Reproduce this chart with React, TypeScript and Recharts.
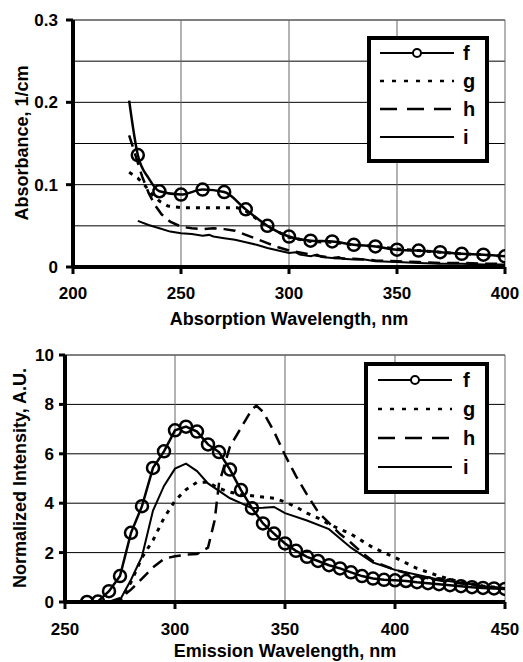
import React from 'react';
import {
  LineChart,
  Line,
  XAxis,
  YAxis,
  CartesianGrid,
  Label,
} from 'recharts';

// ---- absorption spectra (top panel) ----
const absXTicks = [200, 250, 300, 350, 400];
const absYTicks = [0, 0.05, 0.1, 0.15, 0.2, 0.25, 0.3];
const absYLabeled = [0, 0.1, 0.2, 0.3];

const absWlF = [226, 230, 235, 240, 250, 260, 270, 280, 290, 300, 310, 320, 330, 340, 350, 360, 370, 380, 390, 400];
const absF = [0.202, 0.136, 0.108, 0.092, 0.088, 0.094, 0.091, 0.07, 0.05, 0.037, 0.032, 0.031, 0.027, 0.025, 0.021, 0.02, 0.018, 0.016, 0.015, 0.013];

const absWlG = [226, 230, 233, 236, 240, 244, 250, 260, 270, 276, 280, 290, 300, 310, 320, 330, 340, 350, 360, 370, 380, 390, 400];
const absG = [0.115, 0.108, 0.1, 0.09, 0.08, 0.074, 0.072, 0.072, 0.072, 0.072, 0.068, 0.049, 0.036, 0.031, 0.03, 0.027, 0.025, 0.022, 0.02, 0.018, 0.016, 0.015, 0.013];

const absWlH = [226, 229, 232, 235, 238, 241, 245, 250, 255, 260, 265, 270, 275, 280, 285, 290, 295, 300, 310, 320, 330, 340, 350, 360, 370, 380, 390, 400];
const absH = [0.16, 0.135, 0.11, 0.09, 0.075, 0.064, 0.055, 0.049, 0.047, 0.046, 0.047, 0.046, 0.044, 0.039, 0.034, 0.029, 0.024, 0.02, 0.015, 0.011, 0.01, 0.008, 0.007, 0.006, 0.005, 0.005, 0.004, 0.004];

const absWlI = [230, 235, 240, 245, 250, 255, 260, 263, 265, 270, 275, 280, 285, 290, 295, 300, 303, 305, 310, 313, 315, 320, 323, 325, 330, 335, 340, 350, 360, 370, 380, 390, 400];
const absI = [0.056, 0.051, 0.047, 0.043, 0.041, 0.04, 0.038, 0.039, 0.037, 0.035, 0.033, 0.03, 0.027, 0.023, 0.02, 0.017, 0.018, 0.015, 0.013, 0.015, 0.012, 0.011, 0.012, 0.01, 0.009, 0.009, 0.007, 0.006, 0.005, 0.004, 0.004, 0.003, 0.003];

// ---- emission spectra (bottom panel) ----
const emXTicks = [250, 300, 350, 400, 450];
const emYTicks = [0, 2, 4, 6, 8, 10];

const emWlF = [260, 265, 270, 275, 280, 285, 290, 295, 300, 305, 310, 315, 320, 325, 330, 335, 340, 345, 350, 355, 360, 365, 370, 375, 380, 385, 390, 395, 400, 405, 410, 415, 420, 425, 430, 435, 440, 445, 450];
const emF = [0, 0.02, 0.44, 1.05, 2.8, 3.88, 5.43, 6.1, 6.95, 7.1, 6.9, 6.38, 6.07, 5.36, 4.53, 3.8, 3.18, 2.77, 2.37, 2.07, 1.83, 1.66, 1.49, 1.36, 1.2, 1.05, 0.95, 0.9, 0.88, 0.85, 0.8, 0.76, 0.72, 0.68, 0.64, 0.6, 0.57, 0.55, 0.53];

const emWlG = [270, 275, 280, 285, 290, 295, 300, 305, 310, 315, 320, 325, 330, 335, 340, 345, 350, 355, 360, 365, 370, 375, 380, 390, 400, 410, 420, 430, 440, 450];
const emG = [0, 0.05, 0.8, 1.8, 2.5, 3.4, 4.1, 4.55, 4.85, 4.85, 4.6, 4.45, 4.35, 4.3, 4.25, 4.2, 4.05, 3.85, 3.6, 3.4, 3.15, 2.95, 2.75, 2.2, 1.8, 1.36, 1.05, 0.8, 0.65, 0.55];

const emWlH = [270, 275, 280, 285, 290, 295, 300, 305, 310, 315, 318, 320, 325, 330, 335, 337, 340, 345, 350, 355, 360, 365, 370, 375, 380, 385, 390, 400, 410, 420, 430, 440, 450];
const emH = [0, 0.15, 0.5, 0.95, 1.4, 1.75, 1.85, 1.92, 1.94, 2.2, 3.3, 4.8, 6.3, 7.05, 7.8, 7.95, 7.7, 6.9, 5.95, 5.1, 4.35, 3.65, 3.2, 2.75, 2.4, 2.0, 1.65, 1.3, 1.05, 0.88, 0.75, 0.63, 0.55];

const emWlI = [270, 275, 280, 285, 290, 295, 300, 305, 310, 315, 320, 325, 330, 335, 340, 345, 350, 360, 370, 380, 390, 400, 410, 420, 430, 440, 450];
const emI = [0, 0.08, 0.9, 1.85, 3.7, 4.7, 5.4, 5.6, 5.3, 4.8, 4.5, 4.2, 4.0, 3.8, 3.82, 3.85, 3.6, 3.3, 2.95, 2.2, 1.6, 1.3, 1.1, 0.9, 0.78, 0.65, 0.55];

const zip = (xs: number[], ys: number[], mark?: (x: number) => boolean) =>
  xs.map((x, i) => ({ x, y: ys[i], m: mark ? mark(x) : false }));

const FONT = '"Liberation Sans", Arial, sans-serif';

const ringDot = (props: any) => {
  const { cx, cy, index, payload } = props;
  if (!payload || !payload.m) return <g key={`e${index}`} />;
  return (
    <circle key={`d${index}`} cx={cx} cy={cy} r={6} fill="none" stroke="#000" strokeWidth={2.5} />
  );
};

const legendRows = [
  { name: 'f', dash: undefined, ring: true, w: 2 },
  { name: 'g', dash: '4 8', ring: false, w: 2.5 },
  { name: 'h', dash: '17 10', ring: false, w: 2.5 },
  { name: 'i', dash: undefined, ring: false, w: 2 },
];

// legend box drawn over the plot, like the spreadsheet original
const LegendBox = ({ left, top, w, h, rowTop, rowGap, lineFrom, lineTo, textX }: any) => (
  <div
    style={{
      position: 'absolute',
      left,
      top,
      width: w,
      height: h,
      boxSizing: 'border-box',
      border: '4px solid #000',
      background: '#fff',
    }}
  >
    <svg width={w - 8} height={h - 8} style={{ display: 'block' }}>
      {legendRows.map((r, i) => {
        const y = rowTop + i * rowGap - 4;
        return (
          <g key={r.name}>
            <line x1={lineFrom - 4} x2={lineTo - 4} y1={y} y2={y} stroke="#000" strokeWidth={r.w} strokeDasharray={r.dash} />
            {r.ring && <circle cx={(lineFrom + lineTo) / 2 - 4} cy={y} r={4} fill="#fff" stroke="#000" strokeWidth={2} />}
            <text x={textX - 4} y={y} dy="0.36em" fontFamily={FONT} fontWeight="bold" fontSize={20} fill="#000">
              {r.name}
            </text>
          </g>
        );
      })}
    </svg>
  </div>
);

const AbsYTick = (props: any) => {
  const { y, payload } = props;
  const v = payload.value;
  if (!absYLabeled.some((t) => Math.abs(t - v) < 1e-9)) return <g />;
  return (
    <g>
      <line x1={66} x2={73} y1={y} y2={y} stroke="#000" strokeWidth={3} />
      <text x={58} y={y} dy="0.36em" textAnchor="end" fontFamily={FONT} fontWeight="bold" fontSize={17} fill="#000">
        {v === 0 ? '0' : v.toFixed(1)}
      </text>
    </g>
  );
};

const tickStyle = { fontFamily: FONT, fontWeight: 'bold', fontSize: 17, fill: '#000' } as const;

const App = () => {
  const absFData = zip(absWlF, absF, (x) => x >= 230 && x % 10 === 0);
  const absGData = zip(absWlG, absG);
  const absHData = zip(absWlH, absH);
  const absIData = zip(absWlI, absI);

  const emFData = zip(emWlF, emF, () => true);
  const emGData = zip(emWlG, emG);
  const emHData = zip(emWlH, emH);
  const emIData = zip(emWlI, emI);

  return (
    <div style={{ position: 'absolute', left: 0, top: 0, width: 523, height: 662, background: '#fff', overflow: 'hidden' }}>
      {/* absorption */}
      <div style={{ position: 'absolute', left: 0, top: 0 }}>
        <LineChart width={523} height={330} margin={{ top: 20, right: 18, bottom: 0, left: 0 }}>
          <CartesianGrid vertical={false} stroke="#000" strokeWidth={1} />
          <CartesianGrid horizontal={false} stroke="#666" strokeWidth={1} />
          <XAxis
            type="number"
            dataKey="x"
            domain={[200, 400]}
            ticks={absXTicks}
            height={63}
            axisLine={{ stroke: '#000', strokeWidth: 4 }}
            tickLine={{ stroke: '#000', strokeWidth: 3 }}
            tickSize={7}
            tickMargin={13}
            tick={tickStyle}
            allowDataOverflow
          >
            <Label
              content={() => (
                <text x={289} y={325} textAnchor="middle" fontFamily={FONT} fontWeight="bold" fontSize={18} fill="#000">
                  Absorption Wavelength, nm
                </text>
              )}
            />
          </XAxis>
          <YAxis
            type="number"
            domain={[0, 0.3]}
            ticks={absYTicks}
            width={73}
            axisLine={{ stroke: '#000', strokeWidth: 4 }}
            tickLine={false}
            tick={<AbsYTick />}
            allowDataOverflow
          >
            <Label
              content={() => (
                <text x={22} y={143} transform="rotate(-90 22 143)" textAnchor="middle" dominantBaseline="central" fontFamily={FONT} fontWeight="bold" fontSize={18} fill="#000">
                  Absorbance, 1/cm
                </text>
              )}
            />
          </YAxis>
          <Line data={absIData} dataKey="y" type="linear" stroke="#000" strokeWidth={2} dot={false} isAnimationActive={false} />
          <Line data={absHData} dataKey="y" type="linear" stroke="#000" strokeWidth={2.5} strokeDasharray="12 7" dot={false} isAnimationActive={false} />
          <Line data={absGData} dataKey="y" type="linear" stroke="#000" strokeWidth={3} strokeDasharray="4 6" dot={false} isAnimationActive={false} />
          <Line data={absFData} dataKey="y" type="monotone" stroke="#000" strokeWidth={2.5} dot={ringDot} isAnimationActive={false} />
        </LineChart>
        <LegendBox left={367} top={36} w={122} h={127} rowTop={17} rowGap={28} lineFrom={13} lineTo={87} textX={96} />
      </div>

      {/* emission */}
      <div style={{ position: 'absolute', left: 0, top: 335 }}>
        <LineChart width={523} height={327} margin={{ top: 20, right: 18, bottom: 0, left: 0 }}>
          <CartesianGrid vertical={false} stroke="#000" strokeWidth={1} />
          <CartesianGrid horizontal={false} stroke="#666" strokeWidth={1} />
          <XAxis
            type="number"
            dataKey="x"
            domain={[250, 450]}
            ticks={emXTicks}
            height={60}
            axisLine={{ stroke: '#000', strokeWidth: 4 }}
            tickLine={{ stroke: '#000', strokeWidth: 3 }}
            tickSize={7}
            tickMargin={14}
            tick={tickStyle}
            allowDataOverflow
          >
            <Label
              content={() => (
                <text x={285} y={322} textAnchor="middle" fontFamily={FONT} fontWeight="bold" fontSize={18} fill="#000">
                  Emission Wavelength, nm
                </text>
              )}
            />
          </XAxis>
          <YAxis
            type="number"
            domain={[0, 10]}
            ticks={emYTicks}
            width={65}
            axisLine={{ stroke: '#000', strokeWidth: 4 }}
            tickLine={{ stroke: '#000', strokeWidth: 3 }}
            tickSize={6}
            tickMargin={5}
            tick={tickStyle}
            allowDataOverflow
          >
            <Label
              content={() => (
                <text x={20} y={143} transform="rotate(-90 20 143)" textAnchor="middle" dominantBaseline="central" fontFamily={FONT} fontWeight="bold" fontSize={18} fill="#000">
                  Normalized Intensity, A.U.
                </text>
              )}
            />
          </YAxis>
          <Line data={emIData} dataKey="y" type="linear" stroke="#000" strokeWidth={2} dot={false} isAnimationActive={false} />
          <Line data={emHData} dataKey="y" type="linear" stroke="#000" strokeWidth={2.5} strokeDasharray="12 7" dot={false} isAnimationActive={false} />
          <Line data={emGData} dataKey="y" type="linear" stroke="#000" strokeWidth={3} strokeDasharray="4 6" dot={false} isAnimationActive={false} />
          <Line data={emFData} dataKey="y" type="linear" stroke="#000" strokeWidth={2.5} dot={ringDot} isAnimationActive={false} />
        </LineChart>
        <LegendBox left={364} top={27} w={125} h={132} rowTop={18} rowGap={29} lineFrom={14} lineTo={88} textX={99} />
      </div>
    </div>
  );
};

export default App;
